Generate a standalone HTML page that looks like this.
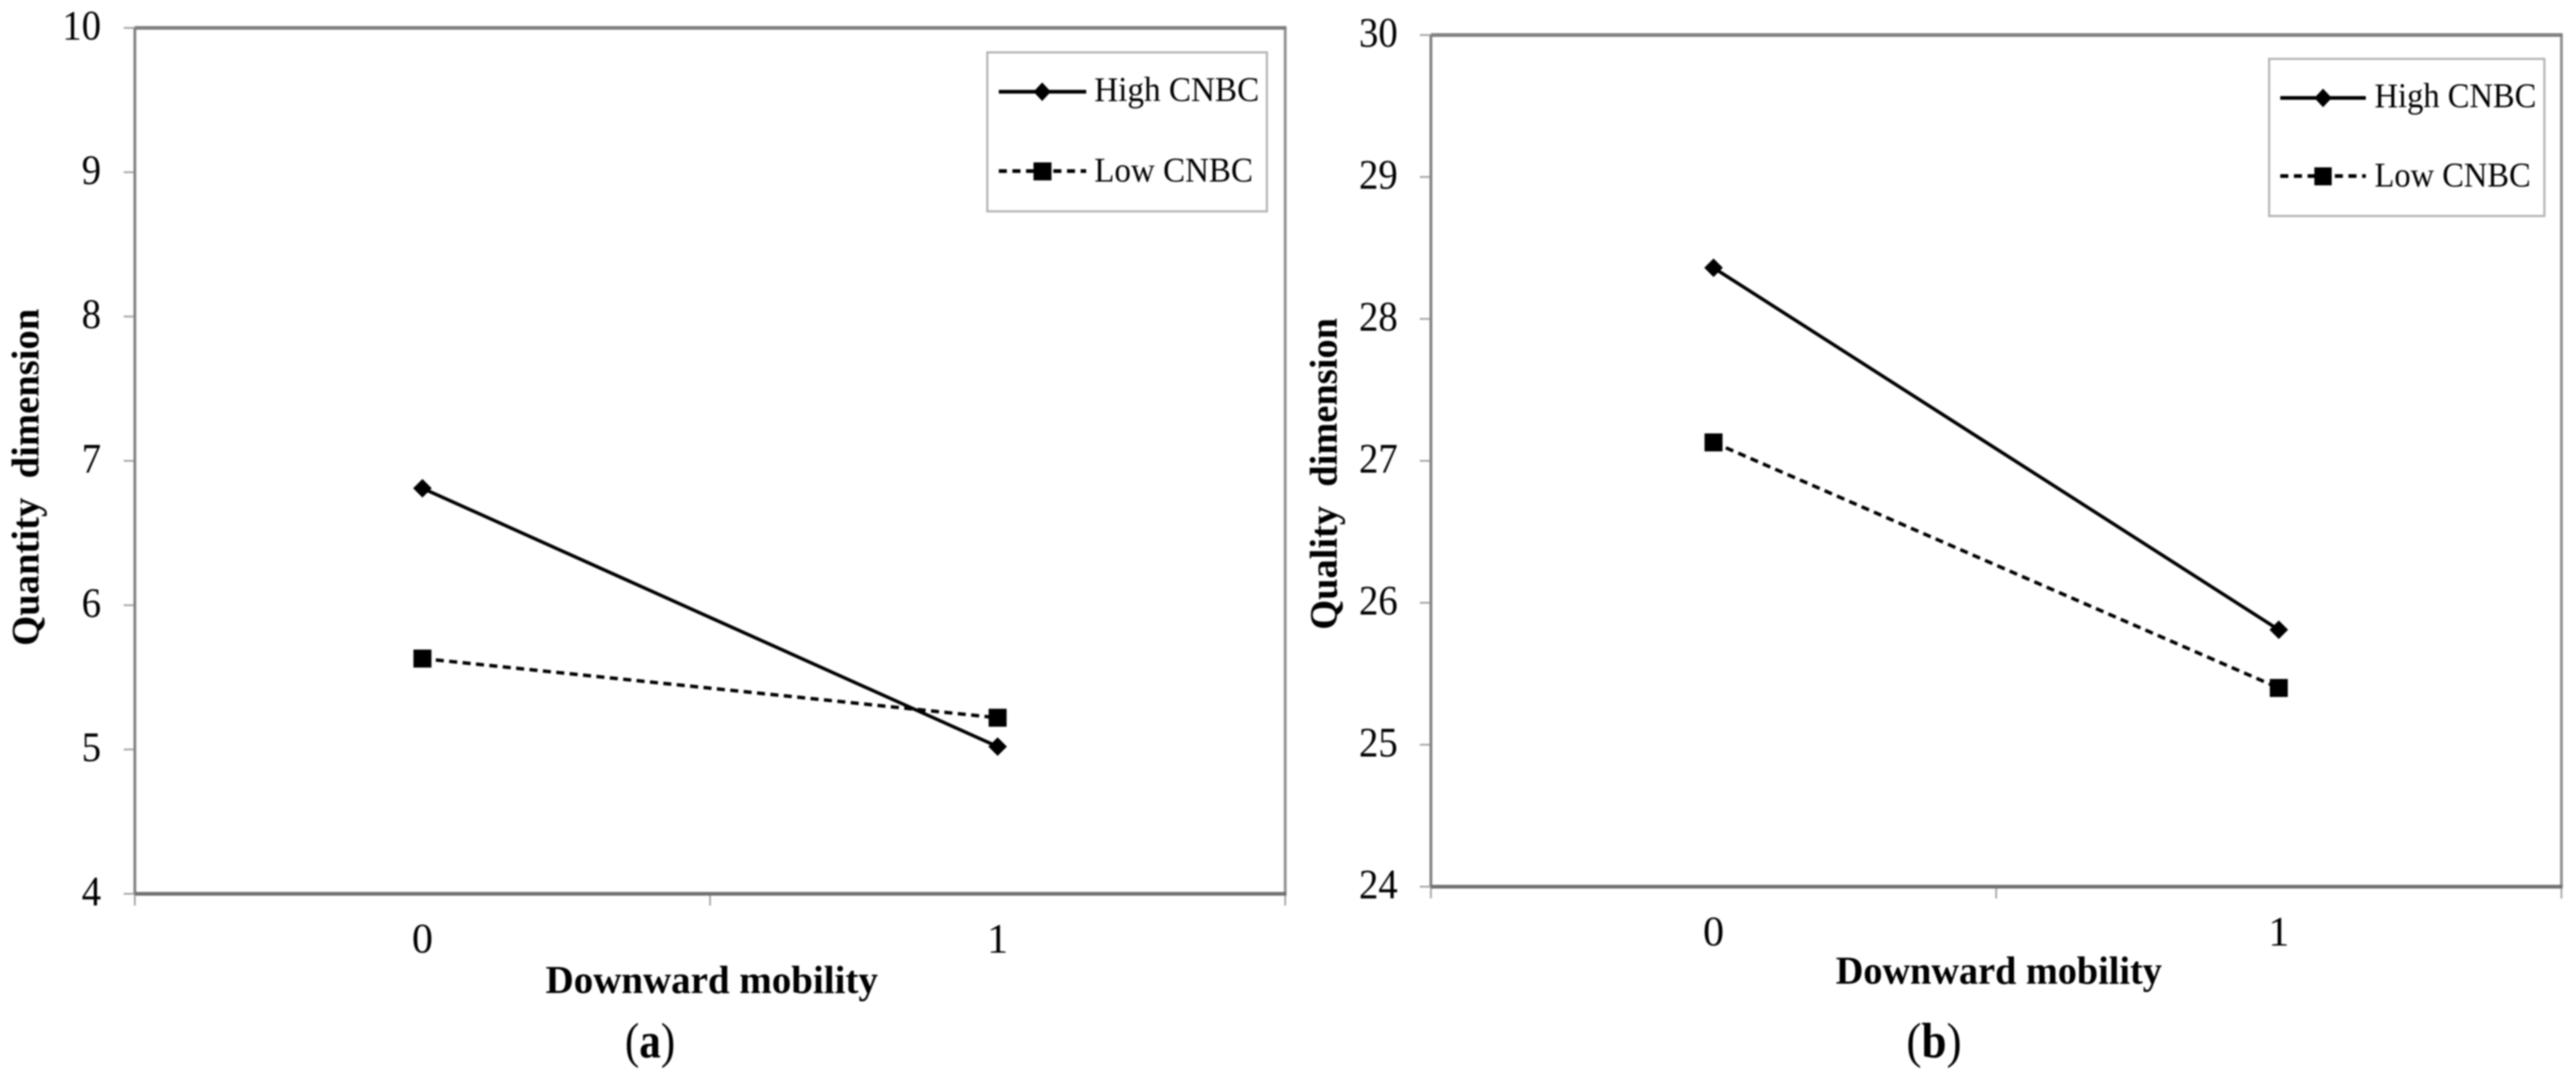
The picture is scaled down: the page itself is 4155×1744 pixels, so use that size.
<!DOCTYPE html>
<html lang="en">
<head>
<meta charset="utf-8">
<title>Downward mobility interaction charts</title>
<style>
  html, body { margin: 0; padding: 0; background: #fff; }
  body { width: 4155px; height: 1744px; overflow: hidden; }
  svg { display: block; filter: blur(1.2px); }
  text { font-family: "Liberation Serif", serif; fill: #000; white-space: pre; }
</style>
</head>
<body>
<svg id="figure" xmlns="http://www.w3.org/2000/svg" width="4155" height="1744" viewBox="0 0 4155 1744">
  <rect x="0" y="0" width="4155" height="1744" fill="#fff"/>

  <g id="panel-a"></g>
  <g id="panel-b"></g>

  <text transform="translate(62,1042) rotate(-90)" font-size="62" font-weight="bold" xml:space="preserve" textLength="544" lengthAdjust="spacingAndGlyphs">Quantity  dimension</text>
  <text x="880" y="1602" font-size="64" font-weight="bold" textLength="536" lengthAdjust="spacingAndGlyphs">Downward mobility</text>
  <text x="1008" y="1706" font-size="80" textLength="81" lengthAdjust="spacingAndGlyphs">(<tspan font-weight="bold">a</tspan>)</text>

  <text transform="translate(2156,1016) rotate(-90)" font-size="62" font-weight="bold" xml:space="preserve" textLength="503" lengthAdjust="spacingAndGlyphs">Quality  dimension</text>
  <text x="2961" y="1587" font-size="64" font-weight="bold" textLength="526" lengthAdjust="spacingAndGlyphs">Downward mobility</text>
  <text x="3075" y="1706" font-size="80" textLength="89" lengthAdjust="spacingAndGlyphs">(<tspan font-weight="bold">b</tspan>)</text>

  <g>
    <rect x="1592.5" y="84.5" width="451" height="256.5" fill="#fff" stroke="#b4b4b4" stroke-width="3.5"/>
    <g>
      <line x1="1611" y1="148" x2="1752" y2="148" stroke="#000" stroke-width="6"/>
      <polygon points="1681,133 1695,148 1681,163 1667,148" fill="#000"/>
      <text x="1765" y="163" font-size="56" textLength="266" lengthAdjust="spacingAndGlyphs">High CNBC</text>
    </g>
    <g>
      <line x1="1611" y1="276" x2="1752" y2="276" stroke="#000" stroke-width="6" stroke-dasharray="13 9"/>
      <rect x="1667" y="262" width="29" height="29" fill="#000"/>
      <text x="1765" y="293" font-size="56" textLength="256" lengthAdjust="spacingAndGlyphs">Low CNBC</text>
    </g>
  </g>

  <g>
    <rect x="3660" y="95" width="444" height="253.5" fill="#fff" stroke="#b4b4b4" stroke-width="3.5"/>
    <g>
      <line x1="3678" y1="158" x2="3816" y2="158" stroke="#000" stroke-width="6"/>
      <polygon points="3747,143 3761,158 3747,173 3733,158" fill="#000"/>
      <text x="3830" y="173" font-size="56" textLength="261" lengthAdjust="spacingAndGlyphs">High CNBC</text>
    </g>
    <g>
      <line x1="3678" y1="284" x2="3816" y2="284" stroke="#000" stroke-width="6" stroke-dasharray="13 9"/>
      <rect x="3733" y="270" width="28" height="29" fill="#000"/>
      <text x="3830" y="301" font-size="56" textLength="252" lengthAdjust="spacingAndGlyphs">Low CNBC</text>
    </g>
  </g>
</svg>

<script>
var categories = ["0", "1"];

var yTickLabelsA = [4, 5, 6, 7, 8, 9, 10];
var highCnbcA = [6.81, 5.02];
var lowCnbcA = [5.63, 5.22];

var yTickLabelsB = [24, 25, 26, 27, 28, 29, 30];
var highCnbcB = [28.36, 25.81];
var lowCnbcB = [27.13, 25.40];

var SVG_NS = "http://www.w3.org/2000/svg";

function make(tag, attrs, parent) {
  var node = document.createElementNS(SVG_NS, tag);
  for (var key in attrs) node.setAttribute(key, attrs[key]);
  parent.appendChild(node);
  return node;
}

function drawPanel(id, frame, yTicks, categoryLabels, high, low, suffix) {
  var root = document.getElementById(id);
  var domainMin = yTicks[0];
  var domainMax = yTicks[yTicks.length - 1];

  function yScale(value) {
    return frame.bottom - (value - domainMin) / (domainMax - domainMin) * (frame.bottom - frame.top);
  }
  var bandWidth = (frame.right - frame.left) / categoryLabels.length;
  function xScale(index) {
    return frame.left + bandWidth * (index + 0.5);
  }

  // y ticks and labels
  yTicks.forEach(function (tick) {
    var y = yScale(tick);
    var mark = make("line", { x1: frame.left - 18, y1: y, x2: frame.left, y2: y, stroke: "#a8a8a8", "stroke-width": 3 }, root);
    
    
    var label = make("text", { transform: "translate(" + frame.labelRight + "," + (y + 19) + ") scale(0.92,1)", "text-anchor": "end", "font-size": 68 }, root);
    
    
    label.textContent = String(tick);
  });

  // x ticks at band edges
  for (var i = 0; i <= categoryLabels.length; i++) {
    var xt = frame.left + bandWidth * i;
    var xMark = make("line", { x1: xt, y1: frame.bottom, x2: xt, y2: frame.bottom + 19, stroke: "#a8a8a8", "stroke-width": 3 }, root);
    
    
  }

  // x labels
  categoryLabels.forEach(function (cat, index) {
    var xLabel = make("text", { x: xScale(index), y: frame.bottom + 95, "text-anchor": "middle", "font-size": 68 }, root);
    
    
    xLabel.textContent = cat;
  });

  // plot frame
  var left = make("line", { x1: frame.left, y1: frame.top, x2: frame.left, y2: frame.bottom, stroke: "#808080", "stroke-width": 4.5 }, root);
  
  
  var right = make("line", { x1: frame.right, y1: frame.top, x2: frame.right, y2: frame.bottom, stroke: "#909090", "stroke-width": 4.5 }, root);
  
  
  var top = make("line", { x1: frame.left, y1: frame.top, x2: frame.right + 2, y2: frame.top, stroke: "#808080", "stroke-width": 6 }, root);
  
  
  var bottom = make("line", { x1: frame.left, y1: frame.bottom, x2: frame.right + 2, y2: frame.bottom, stroke: "#707070", "stroke-width": 6 }, root);
  
  

  function pointsOf(series) {
    return series.map(function (value, index) {
      return xScale(index) + "," + yScale(value);
    }).join(" ");
  }

  // high series: solid line with diamonds
  var highLine = make("polyline", { points: pointsOf(high), fill: "none", stroke: "#000", "stroke-width": 5.5 }, root);
  
  
  high.forEach(function (value, index) {
    var cx = xScale(index);
    var cy = yScale(value);
    var pts = cx + "," + (cy - 15) + " " + (cx + 15) + "," + cy + " " + cx + "," + (cy + 15) + " " + (cx - 15) + "," + cy;
    var diamond = make("polygon", { points: pts, fill: "#000" }, root);
    
    
  });

  // low series: dashed line with squares
  var lowLine = make("polyline", { points: pointsOf(low), fill: "none", stroke: "#000", "stroke-width": 5.5, "stroke-dasharray": "13 8.7" }, root);
  
  
  low.forEach(function (value, index) {
    var square = make("rect", { x: xScale(index) - 14.5, y: yScale(value) - 14.5, width: 29, height: 29, fill: "#000" }, root);
    
    
  });
}

drawPanel("panel-a", { left: 217.5, right: 2073, top: 45, bottom: 1442, labelRight: 163 }, yTickLabelsA, categories, highCnbcA, lowCnbcA, "a");
drawPanel("panel-b", { left: 2308, right: 4131.5, top: 56.5, bottom: 1430.5, labelRight: 2254.5 }, yTickLabelsB, categories, highCnbcB, lowCnbcB, "b");
</script>
</body>
</html>
